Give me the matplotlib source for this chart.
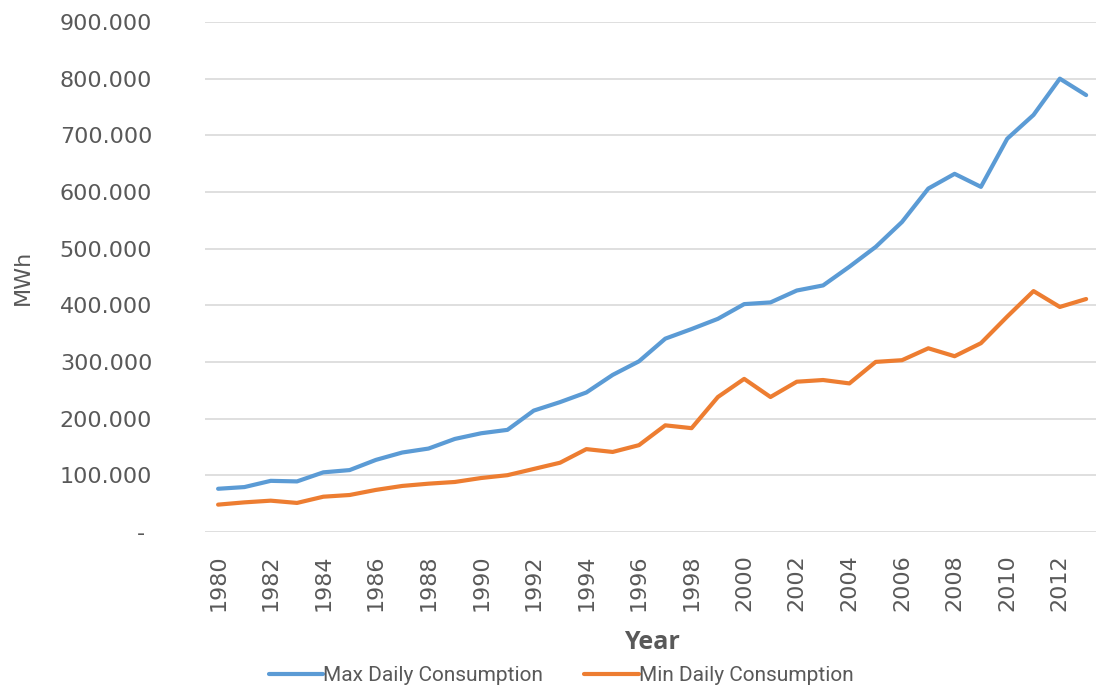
import matplotlib.pyplot as plt
from matplotlib.ticker import FuncFormatter, MultipleLocator

years = list(range(1980, 2014))

# daily consumption, MWh
max_daily = [76000, 79000, 90000, 89000, 105000, 109000, 127000, 140000, 147000, 164000,
             174000, 180000, 214000, 229000, 246000, 277000, 301000, 341000, 358000, 376000,
             402000, 405000, 426000, 435000, 468000, 503000, 547000, 606000, 632000, 609000,
             694000, 736000, 800000, 771000]
min_daily = [48000, 52000, 55000, 51000, 62000, 65000, 74000, 81000, 85000, 88000,
             95000, 100000, 111000, 122000, 146000, 141000, 153000, 188000, 183000, 238000,
             270000, 238000, 265000, 268000, 262000, 300000, 303000, 324000, 310000, 333000,
             380000, 425000, 397000, 411000]

grey = '#595959'
plt.rcParams['font.family'] = ['DejaVu Sans']

fig = plt.figure(figsize=(10.96, 6.88), dpi=100)
ax = fig.add_axes([0.187, 0.227, 0.816, 0.741])

ax.plot(years, max_daily, color='#5B9BD5', lw=3, label='Max Daily Consumption', solid_capstyle='round')
ax.plot(years, min_daily, color='#ED7D31', lw=3, label='Min Daily Consumption', solid_capstyle='round')

ax.set_xlim(1979.5, 2013.5)
ax.set_ylim(0, 900000)
ax.yaxis.set_major_locator(MultipleLocator(100000))
ax.yaxis.set_major_formatter(FuncFormatter(
    lambda v, pos: '- ' if v == 0 else f'{v:,.0f}'.replace(',', '.')))
ax.set_xticks(years[::2])
ax.set_xticklabels([str(y) for y in years[::2]], rotation=90)

ax.grid(axis='y', color='#D9D9D9', lw=1.2)
ax.set_axisbelow(True)
for s in ax.spines.values():
    s.set_visible(False)
ax.tick_params(axis='y', length=0, pad=38, labelsize=16, labelcolor=grey)
ax.tick_params(axis='x', length=0, pad=16, labelsize=16, labelcolor=grey)

ax.set_ylabel('MWh', fontsize=16, color=grey, labelpad=19)
ax.set_xlabel('Year', fontsize=18, fontweight='bold', color=grey, labelpad=14,
              family=['Open Sans', 'DejaVu Sans'])

leg = ax.legend(loc='center', bbox_to_anchor=(0.398, -0.282), ncol=2, frameon=False,
                prop={'family': ['Roboto', 'DejaVu Sans'], 'size': 15},
                labelcolor=grey, handlelength=2.6, handletextpad=0.0, columnspacing=2.0)

fig.savefig('out.png', dpi=100)
